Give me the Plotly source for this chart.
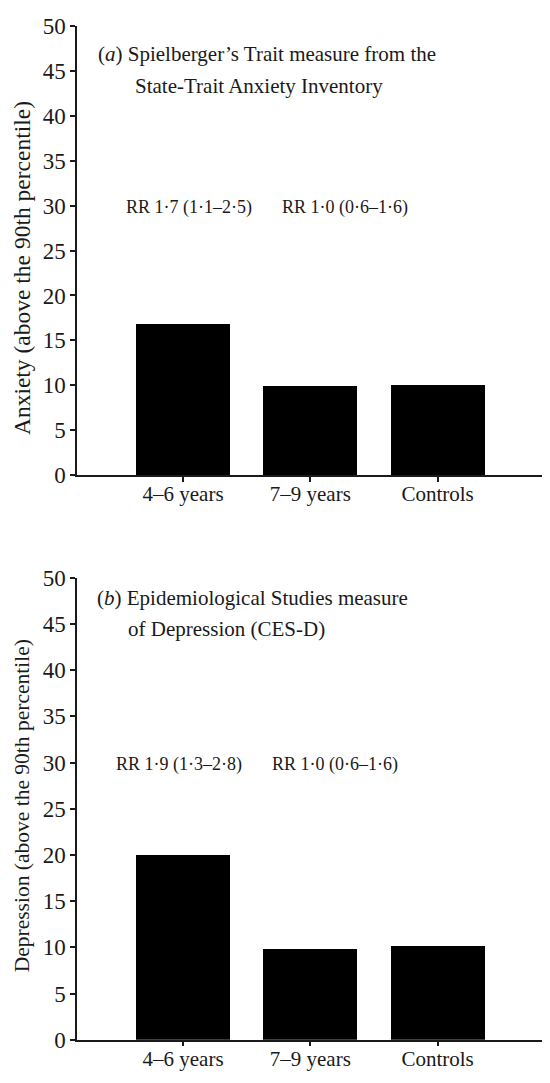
import plotly.graph_objects as go

categories = ["4–6 years", "7–9 years", "Controls"]
anxiety = [16.8, 9.9, 10.1]
depression = [20.0, 9.9, 10.2]
y_ticks = [0, 5, 10, 15, 20, 25, 30, 35, 40, 45, 50]
rr_anxiety = ["RR 1·7 (1·1–2·5)", "RR 1·0 (0·6–1·6)"]
rr_depression = ["RR 1·9 (1·3–2·8)", "RR 1·0 (0·6–1·6)"]
title_a = ["(<i>a</i>) Spielberger’s Trait measure from the", "State-Trait Anxiety Inventory"]
title_b = ["(<i>b</i>) Epidemiological Studies measure", "of Depression (CES-D)"]
ytitle_a = "Anxiety (above the 90th percentile)"
ytitle_b = "Depression (above the 90th percentile)"

# page body has an 8px margin; figure is sized to fill the rest of the window
OFF = 8
W, H = 550 - OFF, 1083 - OFF
FONT = "Liberation Serif"
COL = "#1a1a1a"

def px(x):
    return (x - OFF) / W

def py(y):
    return 1 - (y - OFF) / H

fig = go.Figure()
fig.add_trace(go.Bar(x=categories, y=anxiety, width=0.74, marker=dict(color="black", line=dict(width=0)),
                     xaxis="x", yaxis="y", showlegend=False))
fig.add_trace(go.Bar(x=categories, y=depression, width=0.74, marker=dict(color="black", line=dict(width=0)),
                     xaxis="x2", yaxis="y2", showlegend=False))

xcommon = dict(range=[-0.833, 2.836], showline=True, linecolor=COL, linewidth=1.5,
               ticks="outside", ticklen=5, tickwidth=1.5, tickcolor=COL, showgrid=False,
               zeroline=False, domain=[px(77), px(544)], ticklabelstandoff=-6,
               tickfont=dict(family=FONT, size=21, color=COL))
ycommon = dict(range=[0, 50], tickvals=y_ticks, showline=True, linecolor=COL, linewidth=1.5,
               ticks="outside", ticklen=5, tickwidth=1.5, tickcolor=COL, showgrid=False,
               zeroline=False, tickfont=dict(family=FONT, size=23, color=COL))

fig.update_layout(
    width=W, height=H, margin=dict(l=0, r=0, t=0, b=0),
    paper_bgcolor="white", plot_bgcolor="white", bargap=0,
    xaxis=dict(**xcommon, anchor="y"),
    yaxis=dict(**ycommon, anchor="x", domain=[py(474), py(14)]),
    xaxis2=dict(**xcommon, anchor="y2"),
    yaxis2=dict(**ycommon, anchor="x2", domain=[py(1052), py(579)]),
)

ann = []
def text(t, x, y, size=19, anchor="left", angle=0):
    ann.append(dict(text=t, x=px(x), y=py(y), xref="paper", yref="paper", showarrow=False,
                    xanchor=anchor, yanchor="middle", textangle=angle,
                    font=dict(family=FONT, size=size, color=COL)))

text(title_a[0], 96, 43, size=21)
text(title_a[1], 133, 76, size=21)
text(title_b[0], 95, 600, size=21)
text(title_b[1], 126, 631, size=21)
text(rr_anxiety[0], 124, 200, size=18)
text(rr_anxiety[1], 280, 200, size=18)
text(rr_depression[0], 114, 770, size=18)
text(rr_depression[1], 270, 770, size=18)
text(ytitle_a, 22, 262, size=23.5, anchor="center", angle=-90)
text(ytitle_b, 22, 813, size=21.5, anchor="center", angle=-90)
fig.update_layout(annotations=ann)

fig.write_html("out.html")
